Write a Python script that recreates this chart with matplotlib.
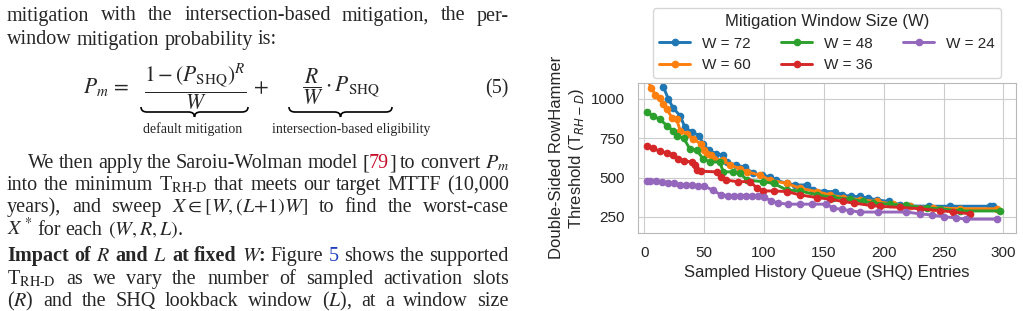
import matplotlib
matplotlib.use("Agg")
import matplotlib.pyplot as plt
import seaborn as sns
from matplotlib.path import Path
from matplotlib.patches import PathPatch

# ---------------- data ----------------
labels = ["W = 72", "W = 60", "W = 48", "W = 36", "W = 24"]
colors = ["#1f77b4", "#ff7f0e", "#2ca02c", "#d62728", "#9467bd"]

w72_x = [10, 16, 20, 24, 30, 34, 40, 46, 49, 54, 60, 66, 69, 77, 84, 91, 98, 105, 110, 119, 126, 136,
         141, 150, 159, 165, 173, 180, 187, 194, 204, 214, 222, 238, 255, 289, 291]
w72_y = [1200, 1075, 1000, 943, 891, 818, 787, 766, 714, 672, 651, 641, 599, 578, 567, 526, 515, 505,
         484, 463, 453, 453, 421, 411, 411, 390, 380, 380, 369, 359, 348, 327, 320, 318, 318, 318, 318]

w60_x = [2, 6, 9, 13, 16, 19, 23, 27, 30, 36, 41, 47, 50, 52, 56, 58, 66, 72, 80, 86, 97, 105, 119,
         130, 144, 155, 166, 180, 194, 208, 222, 241, 264, 295]
w60_y = [1130, 1069, 1027, 1006, 964, 933, 881, 870, 797, 776, 745, 714, 672, 651, 641, 620, 609, 578,
         557, 536, 515, 484, 463, 432, 411, 390, 373, 359, 348, 331, 317, 308, 302, 302]

w48_x = [2, 7, 13, 19, 24, 27, 33, 38, 44, 49, 55, 63, 66, 74, 80, 86, 99, 108, 119, 130, 144, 158,
         172, 183, 191, 205, 219, 236, 247, 264, 297]
w48_y = [916, 891, 870, 829, 797, 766, 749, 682, 672, 620, 599, 599, 536, 536, 526, 484, 474, 463,
         421, 415, 390, 373, 363, 348, 338, 331, 323, 306, 302, 288, 288]

w36_x = [2, 7, 13, 19, 24, 28, 33, 40, 42, 44, 47, 61, 64, 68, 78, 88, 94, 99, 108, 119, 130, 144,
         155, 166, 175, 189, 197, 214, 230, 247, 258, 272]
w36_y = [703, 687, 666, 657, 645, 620, 605, 599, 578, 547, 540, 536, 505, 484, 474, 474, 436, 415,
         415, 411, 390, 373, 363, 348, 338, 323, 317, 311, 302, 290, 282, 270]

w24_x = [2, 5, 10, 15, 20, 25, 30, 35, 40, 45, 50, 57, 64, 70, 75, 80, 85, 90, 95, 100, 106, 112,
         120, 130, 140, 152, 158, 165, 172, 180, 195, 219, 230, 240, 250, 260, 269, 295]
w24_y = [478, 477, 475, 473, 468, 463, 455, 452, 450, 448, 446, 421, 390, 386, 386, 386, 386, 386,
         386, 375, 352, 338, 331, 331, 331, 331, 306, 298, 290, 281, 281, 281, 270, 262, 252, 244,
         236, 236]

series_x = [w72_x, w60_x, w48_x, w36_x, w24_x]
series_y = [w72_y, w60_y, w48_y, w36_y, w24_y]

x_ticks = [0, 50, 100, 150, 200, 250, 300]
y_ticks = [250, 500, 750, 1000]

# ---------------- figure ----------------
sns.set_style("whitegrid")
plt.rcParams['font.family'] = ['Liberation Sans', 'DejaVu Sans']

FW, FH = 1023, 311
fig = plt.figure(figsize=(FW / 100, FH / 100), dpi=100)


def fx(px):
    return px / FW


def fy(py):
    return 1 - py / FH


ax = fig.add_axes([fx(638.3), fy(232.7), (1016 - 638.3) / FW, (232.7 - 83) / FH])
for xs, ys, lab, c in zip(series_x, series_y, labels, colors):
    ax.plot(xs, ys, marker='o', ms=4.5, lw=2.1, color=c, label=lab)

ax.set_xlim(-5, 310.5)
ax.set_ylim(150, 1100)
ax.set_xticks(x_ticks)
ax.set_yticks(y_ticks)
ax.tick_params(axis='both', labelsize=11, colors='.15', pad=6)
for sp in ax.spines.values():
    sp.set_color('#b8b8b8')
ax.set_xlabel("Sampled History Queue (SHQ) Entries", fontsize=12, color='.15', labelpad=4)
ax.set_ylabel("Double-Sided RowHammer\nThreshold (T$_{RH-D}$)", fontsize=12, color='.15',
              labelpad=4, math_fontfamily='dejavusans')

leg = ax.legend(ncol=3, loc='lower center', bbox_to_anchor=(0.5, 1.0), borderaxespad=0.3,
                title="Mitigation Window Size (W)", fontsize=11, title_fontsize=12,
                frameon=True, edgecolor='#cccccc')
leg.get_frame().set_linewidth(1.0)

# ---------------- paper text on the left ----------------
SERIF = ['Liberation Serif', 'DejaVu Serif']
PFS = 14.5
renderer = fig.canvas.get_renderer()


def split_words(s):
    out, cur, inmath = [], '', False
    for ch in s:
        if ch == '$':
            inmath = not inmath
        if ch == ' ' and not inmath:
            if cur:
                out.append(cur)
            cur = ''
        else:
            cur += ch
    if cur:
        out.append(cur)
    return out


def words(s, **kw):
    return [[(w, kw)] for w in split_words(s)]


def place_line(tokens, x0, y, x1=None, fs=PFS):
    objs, widths = [], []
    for word in tokens:
        pieces, wsum = [], 0.0
        for s, kw in word:
            t = fig.text(0, 0, s, fontsize=fs, family=SERIF, math_fontfamily='stix',
                         va='baseline', ha='left', **kw)
            bw = t.get_window_extent(renderer).width
            pieces.append((t, bw))
            wsum += bw
        objs.append(pieces)
        widths.append(wsum)
    space = 0.25 * fs * 100 / 72
    if x1 is None or len(tokens) < 2:
        gap = space
    else:
        gap = (x1 - x0 - sum(widths)) / (len(tokens) - 1)
    x = x0
    for pieces, wsum in zip(objs, widths):
        xx = x
        for t, bw in pieces:
            t.set_position((fx(xx), fy(y)))
            xx += bw
        x += wsum + gap


L, R = 7, 509
TRHD = "T$_{\\mathrm{RH\u2010D}}$"

place_line(words("mitigation with the intersection-based mitigation, the per-"), L, 20.5, R)
place_line(words("window mitigation probability is:"), L, 44.5)

# equation
eqkw = dict(fontsize=15.5, math_fontfamily='stix', family=SERIF)
fig.text(fx(83), fy(93), r"$P_m\,=$", ha='left', va='baseline', **eqkw)
fig.text(fx(195), fy(87), r"$\dfrac{1-(P_{\mathrm{SHQ}})^R}{W}$", ha='center', va='center', **eqkw)
fig.text(fx(253), fy(93), r"$+$", ha='left', va='baseline', **eqkw)
fig.text(fx(341), fy(87), r"$\dfrac{R}{W}\cdot P_{\mathrm{SHQ}}$", ha='center', va='center', **eqkw)
fig.text(fx(508), fy(93), "(5)", ha='right', va='baseline', fontsize=PFS, family=SERIF)
fig.text(fx(193), fy(133), "default mitigation", ha='center', va='baseline', fontsize=10, family=SERIF)
fig.text(fx(351), fy(133), "intersection-based eligibility", ha='center', va='baseline', fontsize=10,
         family=SERIF)


def brace(x0, x1, ytop, h):
    xm = (x0 + x1) / 2
    r = min(6, (x1 - x0) / 6)
    ymid = ytop + h / 2
    pts = [(x0, ytop), (x0, ymid), (x0 + r, ymid), (xm - r, ymid), (xm, ymid), (xm, ytop + h),
           (xm, ymid), (xm + r, ymid), (x1 - r, ymid), (x1, ymid), (x1, ytop)]
    codes = [Path.MOVETO, Path.CURVE3, Path.CURVE3, Path.LINETO, Path.CURVE3, Path.CURVE3,
             Path.CURVE3, Path.CURVE3, Path.LINETO, Path.CURVE3, Path.CURVE3]
    p = Path([(fx(a), fy(b)) for a, b in pts], codes)
    fig.patches.append(PathPatch(p, transform=fig.transFigure, fill=False, lw=1.2, color='black'))


brace(141, 248, 107, 10)
brace(289, 392, 107, 10)

red = '#c8102e'
blue = '#1f3fbf'
line1 = words("We then apply the Saroiu-Wolman model") + [[("[", {}), ("79", dict(color=red)), ("]", {})]] \
    + words("to convert $P_m$")
place_line(line1, 28, 168, R)
place_line(words("into the minimum " + TRHD + " that meets our target MTTF (10,000"), L, 190, R)
place_line(words(r"years), and sweep $X \in [W, (L{+}1)W]$ to find the worst-case"), L, 212, R)
place_line(words(r"$X^*$ for each $(W, R, L)$."), L, 235)
bold = dict(fontweight='bold')
line5 = words("Impact of $R$ and $L$ at fixed $W$:", **bold) + words("Figure") \
    + [[("5", dict(color=blue))]] + words("shows the supported")
place_line(line5, L, 261, R)
place_line(words(TRHD + " as we vary the number of sampled activation slots"), L, 284, R)
place_line(words("($R$) and the SHQ lookback window ($L$), at a window size"), L, 306, R)

fig.savefig("out.png", dpi=100)
